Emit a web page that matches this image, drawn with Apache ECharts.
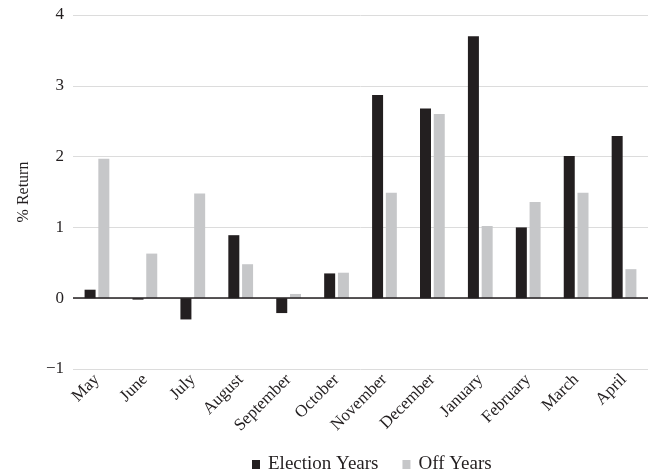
<!DOCTYPE html>
<html><head><meta charset="utf-8">
<script src="https://cdn.jsdelivr.net/npm/echarts@6/dist/echarts.min.js"></script>
<style>html,body{margin:0;padding:0;background:#fff}#c{width:649px;height:474px}</style>
</head><body><div id="c"></div>
<script>
var months = ["May","June","July","August","September","October","November","December","January","February","March","April"];
var electionYears = [0.12,-0.02,-0.30,0.89,-0.21,0.35,2.87,2.68,3.70,1.00,2.01,2.29];
var offYears = [1.97,0.63,1.48,0.48,0.06,0.36,1.49,2.60,1.02,1.36,1.49,0.41];
var yTicks = {min:-1,max:4,interval:1};
var FONT = '"Liberation Serif","Times New Roman",serif';
var chart = echarts.init(document.getElementById('c'));
chart.setOption({
  animation:false,
  grid:{left:73,right:1,top:15,bottom:105},
  legend:{top:450,left:247,icon:'rect',itemWidth:8,itemHeight:9,itemGap:24,
    textStyle:{fontFamily:FONT,fontSize:19,color:'#231f20',padding:[0,0,0,3]},
    data:['Election Years','Off Years']},
  xAxis:{type:'category',data:months,
    axisLine:{show:false,onZero:false},axisTick:{show:false},
    axisLabel:{rotate:45,interval:0,margin:8,fontFamily:FONT,fontSize:17,color:'#231f20'}},
  yAxis:{type:'value',min:yTicks.min,max:yTicks.max,interval:yTicks.interval,
    name:'% Return',nameLocation:'middle',nameGap:41,nameRotate:90,
    nameTextStyle:{fontFamily:FONT,fontSize:16,color:'#231f20'},
    axisLine:{show:false},axisTick:{show:false},
    axisLabel:{margin:9,fontFamily:FONT,fontSize:17,color:'#231f20',
      formatter:function(v){return v<0?'\u2212'+Math.abs(v):String(v);}},
    splitLine:{lineStyle:{color:'#dcdcdc',width:1}}},
  series:[
    {name:'Election Years',type:'bar',data:electionYears,barWidth:11,barGap:'25%',
      itemStyle:{color:'#231f20'},
      markLine:{silent:true,symbol:'none',label:{show:false},
        lineStyle:{color:'#231f20',width:1.5,type:'solid'},data:[{yAxis:0}]}},
    {name:'Off Years',type:'bar',data:offYears,barWidth:11,
      itemStyle:{color:'#c6c7c9'}}
  ]
});
</script></body></html>
